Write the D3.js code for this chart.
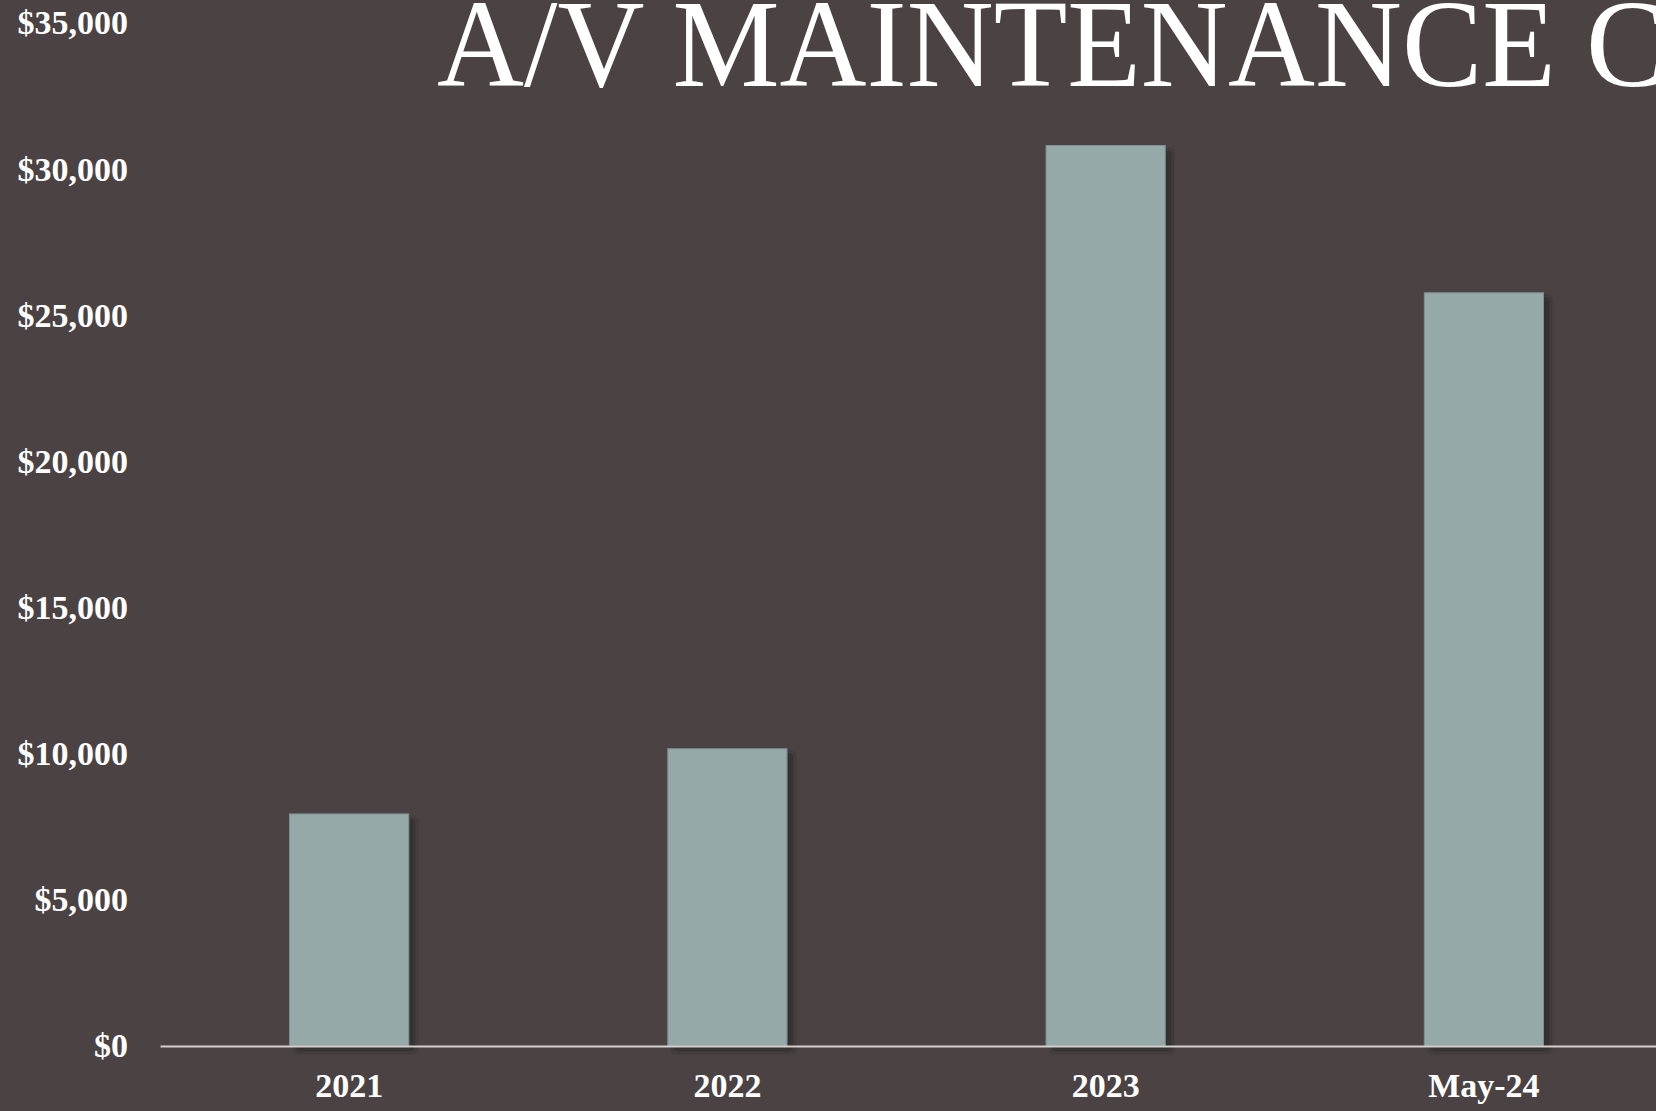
<!DOCTYPE html>
<html>
<head>
<meta charset="utf-8">
<script src="https://cdn.jsdelivr.net/npm/d3@7"></script>
<style>
  html, body { margin: 0; padding: 0; background: #4a4243; overflow: hidden; }
  svg { display: block; }
</style>
</head>
<body>
<div id="chart"></div>
<script>
const categories = ['2021', '2022', '2023', 'May-24']
const costs = [7940, 10170, 30810, 25770]
const yTicks = [0, 5000, 10000, 15000, 20000, 25000, 30000, 35000]
const titleText = 'A/V MAINTENANCE COSTS'

const width = 1656
const height = 1111
const margin = { top: 23, left: 160, bottom: 65 }
const plotRight = 1673 // plot area runs a bit past the page edge

const svg = d3.select('#chart')
  .append('svg')
  .attr('width', width)
  .attr('height', height)
  .style('background', '#4a4243')

const defs = svg.append('defs')
const shadow = defs.append('filter')
  .attr('id', 'shadow')
  .attr('x', '-20%').attr('y', '-5%')
  .attr('width', '150%').attr('height', '120%')
shadow.append('feDropShadow')
  .attr('dx', 6).attr('dy', 5)
  .attr('stdDeviation', 2)
  .attr('flood-color', '#1e1a1b')
  .attr('flood-opacity', 0.55)

const x = d3.scaleBand()
  .domain(categories)
  .range([margin.left, plotRight])
  .paddingInner(0.685)
  .paddingOuter(0.3425)

const y = d3.scaleLinear()
  .domain([0, 35000])
  .range([height - margin.bottom, margin.top])

// title, squeezed horizontally like the condensed original face
const title = svg.append('text')
  .attr('font-family', '"Liberation Serif", "DejaVu Serif", serif')
  .attr('font-size', 124)
  .attr('fill', '#ffffff')
  .text(titleText)
const partLen = title.node().getSubStringLength(0, 16)
const sx = 1149 / partLen
title.attr('transform', 'translate(437,86) scale(' + sx + ',1)')

// bars
svg.append('g')
  .selectAll('rect')
  .data(costs)
  .enter()
  .append('rect')
  .attr('x', (d, i) => x(categories[i]))
  .attr('y', d => y(d))
  .attr('width', x.bandwidth())
  .attr('height', d => y(0) - y(d))
  .attr('fill', '#95a9a8')
  .attr('stroke', '#7f9190')
  .attr('stroke-width', 1)
  .attr('filter', 'url(#shadow)')

// y axis labels
const yAxis = svg.append('g')
  .attr('transform', 'translate(128,0)')
  .call(d3.axisLeft(y).tickValues(yTicks).tickFormat(d3.format('$,')).tickSize(0).tickPadding(0))
yAxis.select('.domain').remove()
yAxis.selectAll('text')
  .attr('fill', '#ffffff')
  .attr('font-family', '"Liberation Serif", "DejaVu Serif", serif')
  .attr('font-weight', 700)
  .attr('font-size', 34)

// baseline + category labels
const xAxis = svg.append('g')
  .attr('transform', 'translate(0,' + y(0) + ')')
  .call(d3.axisBottom(x).tickSize(0).tickPadding(27))
xAxis.select('.domain')
  .attr('stroke', '#d4d0cd')
  .attr('stroke-width', 2)
xAxis.selectAll('text')
  .attr('fill', '#ffffff')
  .attr('font-family', '"Liberation Serif", "DejaVu Serif", serif')
  .attr('font-weight', 700)
  .attr('font-size', 34)
</script>
</body>
</html>
